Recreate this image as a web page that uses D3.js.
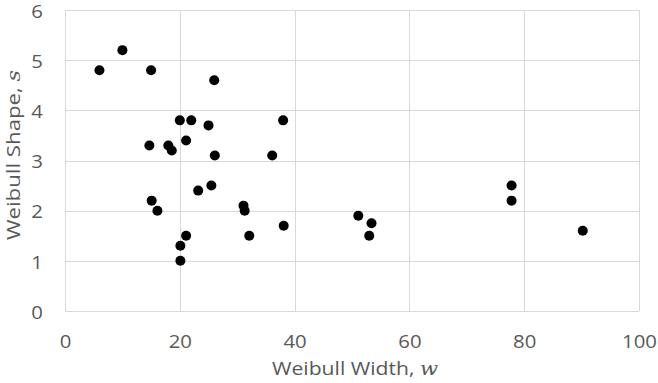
<!DOCTYPE html>
<html>
<head>
<meta charset="utf-8">
<script src="https://cdn.jsdelivr.net/npm/d3@7"></script>
<style>
  html, body { margin: 0; padding: 0; background: #fff; }
  svg { display: block; }
  text { font-family: "Open Sans", "Liberation Sans", sans-serif; fill: #595959; }
</style>
</head>
<body>
<svg id="chart" width="658" height="383"></svg>
<script>
// Weibull fit parameters for each sample
const widthW = [6, 10, 15, 26, 20, 22, 25, 38, 14.7, 18, 18.6, 21.1, 26.1, 36.1, 23.2, 25.5,
                15.1, 16.1, 31.1, 31.3, 38.1, 32.1, 21.1, 20.1, 20.1, 51.1, 53.4, 53.0, 77.8, 77.8, 90.2];
const shapeS = [4.8, 5.2, 4.8, 4.6, 3.8, 3.8, 3.7, 3.8, 3.3, 3.3, 3.2, 3.4, 3.1, 3.1, 2.4, 2.5,
                2.2, 2.0, 2.1, 2.0, 1.7, 1.5, 1.5, 1.3, 1.0, 1.9, 1.75, 1.5, 2.5, 2.2, 1.6];
const xTicks = [0, 20, 40, 60, 80, 100];
const yTicks = [0, 1, 2, 3, 4, 5, 6];
const xTitle = "Weibull Width, ";
const xVar = "w";
const yTitle = "Weibull Shape, ";
const yVar = "s";

const svg = d3.select("#chart");
const plotL = 65, plotR = 639, plotT = 10, plotB = 311;
const stretch = 1.13;   // wider lettering for the labels

const x = d3.scaleLinear().domain([0, 100]).range([plotL, plotR]);
const y = d3.scaleLinear().domain([0, 6]).range([plotB, plotT]);

// gridlines
const grid = svg.append("g").attr("stroke", "#d9d9d9").attr("stroke-width", 1);
grid.selectAll("line.v").data(xTicks).join("line").attr("class", "v")
  .attr("x1", d => Math.round(x(d)) + 0.5).attr("x2", d => Math.round(x(d)) + 0.5)
  .attr("y1", plotT).attr("y2", plotB);
grid.selectAll("line.h").data(yTicks).join("line").attr("class", "h")
  .attr("y1", d => Math.round(y(d)) + 0.5).attr("y2", d => Math.round(y(d)) + 0.5)
  .attr("x1", plotL).attr("x2", plotR);

// axes (labels only)
const xAxis = svg.append("g").attr("transform", `translate(0,${plotB})`)
  .call(d3.axisBottom(x).tickValues(xTicks).tickFormat(d3.format("d")).tickSize(0).tickPadding(24));
const yAxis = svg.append("g").attr("transform", `translate(${plotL},1.5)`)
  .call(d3.axisLeft(y).tickValues(yTicks).tickFormat(d3.format("d")).tickSize(0).tickPadding(22 / stretch));
[xAxis, yAxis].forEach(a => {
  a.select(".domain").remove();
  a.selectAll("text").attr("font-size", 18).attr("fill", "#595959")
    .attr("font-family", "'Open Sans', 'Liberation Sans', sans-serif")
    .attr("transform", `scale(${stretch},1)`);
});

// axis titles
const xt = svg.append("text").attr("x", 272).attr("y", 375)
  .attr("text-anchor", "start").attr("font-size", 18)
  .attr("textLength", 166).attr("lengthAdjust", "spacingAndGlyphs");
xt.append("tspan").text(xTitle);
xt.append("tspan").attr("font-family", "'DejaVu Serif', serif").attr("font-style", "italic").text(xVar);

const yt = svg.append("text").attr("transform", `translate(20,240) rotate(-90)`)
  .attr("text-anchor", "start").attr("font-size", 18)
  .attr("textLength", 170).attr("lengthAdjust", "spacingAndGlyphs");
yt.append("tspan").text(yTitle);
yt.append("tspan").attr("font-family", "'DejaVu Serif', serif").attr("font-style", "italic").text(yVar);

// points
svg.append("g").selectAll("circle").data(d3.range(widthW.length)).join("circle")
  .attr("cx", i => x(widthW[i]))
  .attr("cy", i => y(shapeS[i]))
  .attr("r", 5)
  .attr("fill", "#000");
</script>
</body>
</html>
